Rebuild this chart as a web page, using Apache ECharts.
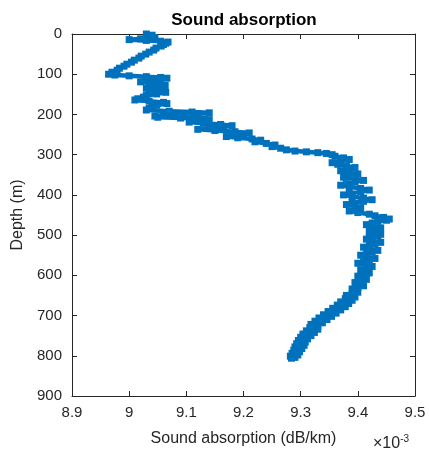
<!DOCTYPE html>
<html>
<head>
<meta charset="utf-8">
<script src="https://cdn.jsdelivr.net/npm/echarts@6/dist/echarts.min.js"></script>
<style>
  html, body { margin: 0; padding: 0; background: #ffffff; }
  #chart { width: 429px; height: 456px; }
</style>
</head>
<body>
<div id="chart"></div>
<script>
// Sound absorption profile; absorption values are in units of 1e-3 dB/km.
const depth = [
  0, 3, 6, 9, 12, 14, 16, 18, 20, 23, 26,
  30, 35, 40, 45, 50, 55, 60, 65, 70, 75, 80, 85, 90, 95, 100,
  102, 104, 106, 108, 110, 113, 116, 119, 122, 125, 128, 131, 135, 139, 142, 145,
  149, 153, 157, 161, 164, 167, 170, 173, 177, 181, 185, 189,
  192, 194, 196, 198, 200, 202, 204, 207, 209, 211, 213, 216, 219, 222, 225, 228,
  231, 234, 237, 240, 243, 246, 249, 252, 255, 258, 261, 264, 268, 272, 276, 280,
  284, 288, 291, 293, 295, 297, 300,
  304, 308, 312, 316, 320, 324, 328, 332, 336, 340, 344, 348, 352, 356, 360, 364,
  368, 372, 376, 380, 384, 388, 392, 396, 400, 404, 408, 412, 416, 420, 424, 428,
  432, 436, 440, 444, 448, 452, 456, 460, 463, 466,
  470, 474, 478, 482, 486, 490, 494, 498, 502, 506, 510, 514, 518, 522, 526, 530,
  534, 538, 542, 546, 550, 554, 558, 562, 566, 570, 574, 578, 582, 586, 590, 594,
  598, 602, 606, 610, 614, 618, 622, 626, 630, 634, 638, 642, 646, 650,
  654, 658, 662, 666, 670, 674, 678, 682, 686, 690, 694, 698, 702, 706, 710, 714,
  718, 722, 726, 730, 734, 738, 742, 746, 750, 754, 758, 762, 766, 770, 774, 778,
  782, 786, 790, 794, 798, 801, 804, 806
];

const absorption = [
  9.030, 9.040, 9.032, 9.045, 9.020, 9.000, 9.030, 9.055, 9.068, 9.064, 9.060,
  9.056, 9.047, 9.043, 9.035, 9.029, 9.021, 9.017, 9.009, 9.004, 8.996, 8.991, 8.983, 8.979, 8.970, 8.964,
  8.975, 9.000, 9.030, 9.055, 9.066, 9.050, 9.030, 9.020, 9.035, 9.055, 9.063, 9.045, 9.030, 9.035, 9.055, 9.064,
  9.048, 9.030, 9.025, 9.015, 9.010, 9.035, 9.060, 9.066, 9.048, 9.040, 9.035, 9.030,
  9.070, 9.110, 9.140, 9.120, 9.090, 9.060, 9.045, 9.050, 9.090, 9.130, 9.140, 9.120, 9.105, 9.130, 9.160, 9.180,
  9.165, 9.140, 9.120, 9.150, 9.185, 9.210, 9.200, 9.180, 9.170, 9.190, 9.215, 9.230, 9.220, 9.240, 9.255, 9.250,
  9.265, 9.275, 9.290, 9.310, 9.330, 9.345, 9.355,
  9.360, 9.375, 9.385, 9.370, 9.355, 9.365, 9.380, 9.395, 9.385, 9.370, 9.380, 9.400, 9.390, 9.375, 9.395, 9.410,
  9.395, 9.380, 9.370, 9.385, 9.405, 9.420, 9.405, 9.385, 9.375, 9.390, 9.410, 9.425, 9.410, 9.390, 9.380, 9.395,
  9.405, 9.395, 9.385, 9.400, 9.420, 9.430, 9.445, 9.455, 9.450, 9.435,
  9.425, 9.415, 9.425, 9.440, 9.430, 9.420, 9.430, 9.440, 9.435, 9.420, 9.415, 9.425, 9.440, 9.430, 9.420, 9.410,
  9.420, 9.435, 9.425, 9.415, 9.405, 9.415, 9.430, 9.420, 9.410, 9.400, 9.415, 9.425, 9.415, 9.405, 9.410, 9.420,
  9.410, 9.400, 9.405, 9.415, 9.405, 9.395, 9.400, 9.410, 9.400, 9.390, 9.395, 9.400, 9.390, 9.380,
  9.395, 9.378, 9.390, 9.370, 9.384, 9.364, 9.378, 9.356, 9.370, 9.348, 9.362, 9.340, 9.354, 9.332, 9.346, 9.325,
  9.338, 9.318, 9.330, 9.316, 9.330, 9.310, 9.324, 9.304, 9.318, 9.300, 9.312, 9.296, 9.308, 9.293, 9.306, 9.290,
  9.302, 9.288, 9.298, 9.285, 9.295, 9.282, 9.290, 9.284
];

const xTicks = { min: 8.9, max: 9.5, step: 0.1 };
const yTicks = { min: 0, max: 900, step: 100 };

const points = depth.map((d, i) => [absorption[i], d]);

const ink = '#262626';
const fontFamily = '"Liberation Sans", Arial, Helvetica, sans-serif';

const chart = echarts.init(document.getElementById('chart'), null, { renderer: 'canvas' });

// Unlabelled top and right axes close the box around the plot.
const frameAxis = {
  axisLine: { show: true, lineStyle: { color: ink, width: 1 } },
  axisTick: { show: true, inside: true, length: 5, lineStyle: { color: ink, width: 1 } },
  axisLabel: { show: false },
  splitLine: { show: false }
};

chart.setOption({
  animation: false,
  backgroundColor: '#ffffff',
  grid: { left: 72, right: 14, top: 34, bottom: 60, containLabel: false },
  xAxis: [
    {
      type: 'value', position: 'bottom',
      min: xTicks.min, max: xTicks.max, interval: xTicks.step,
      name: 'Sound absorption (dB/km)', nameLocation: 'middle', nameGap: 35,
      nameTextStyle: { color: ink, fontSize: 16, fontFamily: fontFamily },
      axisLine: { show: true, onZero: false, lineStyle: { color: ink, width: 1 } },
      axisTick: { show: true, inside: true, length: 5, lineStyle: { color: ink } },
      axisLabel: { color: ink, fontSize: 15, fontFamily: fontFamily, margin: 9 },
      splitLine: { show: false }
    },
    Object.assign({
      type: 'value', position: 'top',
      min: xTicks.min, max: xTicks.max, interval: xTicks.step
    }, frameAxis)
  ],
  yAxis: [
    {
      type: 'value', position: 'left', inverse: true,
      min: yTicks.min, max: yTicks.max, interval: yTicks.step,
      name: 'Depth (m)', nameLocation: 'middle', nameGap: 43, nameRotate: 90,
      nameTextStyle: { color: ink, fontSize: 16, fontFamily: fontFamily },
      axisLine: { show: true, onZero: false, lineStyle: { color: ink, width: 1 } },
      axisTick: { show: true, inside: true, length: 5, lineStyle: { color: ink } },
      axisLabel: { color: ink, fontSize: 15, fontFamily: fontFamily, margin: 10 },
      splitLine: { show: false }
    },
    Object.assign({
      type: 'value', position: 'right', inverse: true,
      min: yTicks.min, max: yTicks.max, interval: yTicks.step
    }, frameAxis)
  ],
  graphic: [
    {
      type: 'text', x: 244, y: 20,
      style: {
        text: 'Sound absorption', fill: '#000000',
        font: 'bold 17px ' + fontFamily,
        textAlign: 'center', textVerticalAlign: 'middle'
      }
    },
    {
      type: 'text', left: 373, top: 434,
      style: {
        rich: {
          base: { fontSize: 16, fontFamily: fontFamily, fill: ink },
          sup: { fontSize: 10, fontFamily: fontFamily, fill: ink, verticalAlign: 'top', padding: [0, 0, 9, 0] }
        },
        text: '{base|×10}{sup|-3}'
      }
    }
  ],
  series: [
    {
      type: 'line',
      data: points,
      xAxisIndex: 0, yAxisIndex: 0,
      clip: false,
      symbol: 'rect',
      symbolSize: 7,
      showAllSymbol: true,
      color: '#0072BD',
      itemStyle: { color: '#0072BD' },
      lineStyle: { color: '#0072BD', width: 4.5, join: 'round', cap: 'round' }
    }
  ]
});
</script>
</body>
</html>
